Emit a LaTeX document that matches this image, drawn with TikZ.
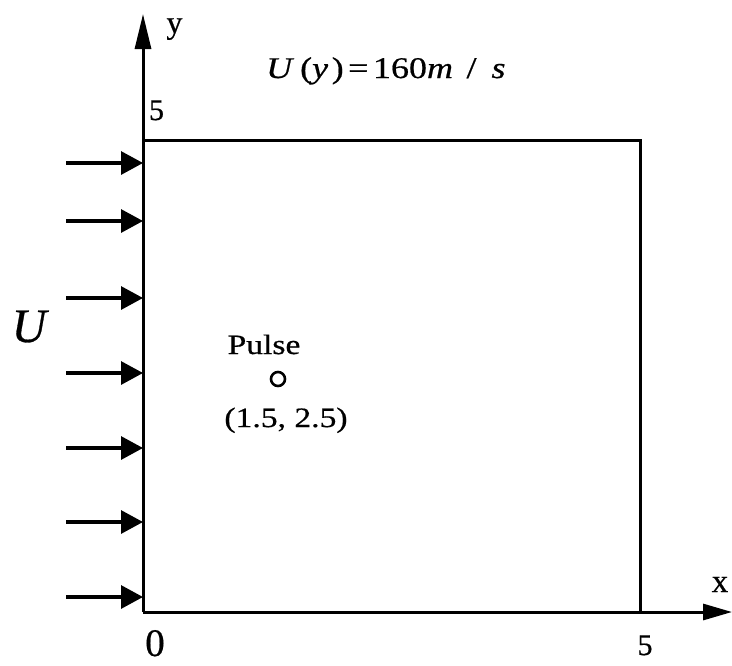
\documentclass[tikz,border=0pt]{standalone}
\usepackage{fontspec}
\setmainfont{Liberation Serif}[FakeBold=0.6]
\newfontfamily\widefont[FakeStretch=1.2,FakeBold=0.6]{Liberation Serif}
\usetikzlibrary{arrows.meta}
\begin{document}
\begin{tikzpicture}[x=1pt,y=-1pt,
  line/.style={line width=3pt},
  inflow/.style={line width=3.2pt,-{Triangle[length=22pt,width=23pt]}},
  yaxis/.style={line width=3pt,-{Triangle[length=35pt,width=16pt]}},
  xaxis/.style={line width=3pt,-{Triangle[length=29pt,width=16pt]}},
  lbl/.style={inner sep=0pt,anchor=base}]
\useasboundingbox (0,0) rectangle (732,665);
% box corners
\coordinate (o) at (143,612);
\coordinate (tl) at (143,140);
\coordinate (tr) at (640,140);
\coordinate (br) at (640,612);
\coordinate (ytip) at (143,14);
\coordinate (xtip) at (732,612);
% axes and box
\draw[yaxis] (o) -- (ytip);
\draw[xaxis] (o) -- (xtip);
\draw[line] (tl) -- (tr) -- (br);
% inflow arrows
\foreach \i/\yy in {1/163,2/221,3/298,4/373,5/448,6/522,7/597}{
  \coordinate (s\i) at (66,\yy);
  \coordinate (e\i) at (143,\yy);
  \draw[inflow] (s\i) -- (e\i);
}
% labels
\node[lbl,font=\fontsize{32}{34}\selectfont] (ylab) at (174.5,33) {y};
\node[lbl,font=\fontsize{30}{32}\selectfont] (top5) at (156.5,120) {5};
\node[lbl,anchor=base west,font=\widefont\fontsize{30}{32}\selectfont] (uy) at (266,78)
  {\textit{U}\hspace{.2em}(\textit{y}\hspace{.12em})\hspace{.15em}=\hspace{.15em}160\textit{m}\hspace{.45em}/\hspace{.5em}\textit{s}};
\node[lbl,font=\fontsize{48}{50}\selectfont\itshape] (U) at (29,342) {U};
\node[lbl,font=\widefont\fontsize{28}{30}\selectfont] (pulse) at (264,354) {Pulse};
\draw[line width=2.6pt] (278,379) circle (7pt);
\node[lbl,font=\widefont\fontsize{28}{30}\selectfont] (pos) at (286,427) {(1.5, 2.5)};
\node[lbl,font=\fontsize{33}{35}\selectfont] (xlab) at (720,592) {x};
\node[lbl,font=\fontsize{39}{41}\selectfont] (zero) at (155,656) {0};
\node[lbl,font=\fontsize{30}{32}\selectfont] (five) at (645,655) {5};
\end{tikzpicture}
\end{document}
